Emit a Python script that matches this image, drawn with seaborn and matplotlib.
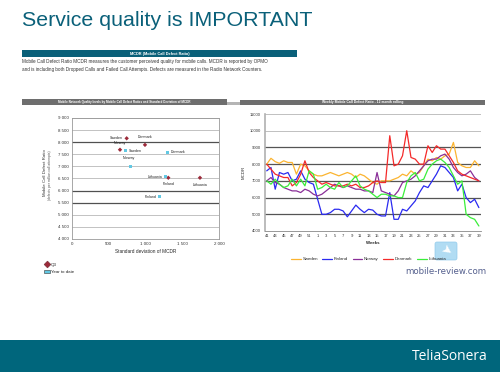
import matplotlib
matplotlib.use("Agg")
import matplotlib.pyplot as plt
import matplotlib.lines as mlines
import matplotlib.patches as mpatches
from matplotlib.ticker import FuncFormatter
import pandas as pd
import seaborn as sns

# scatter: MCDR vs standard deviation of MCDR
countries = ["Sweden", "Denmark", "Norway", "Finland", "Lithuania"]
std_q3 = [744, 993, 653, 1310, 1741]
mcdr_q3 = [8160, 7890, 7690, 6530, 6530]
std_ytd = [730, 1296, 798, 1187, 1278]
mcdr_ytd = [7650, 7580, 6990, 5750, 6580]

# weekly MCDR, 12 month rolling (week 41 .. week 39)
weeks = [41, 42, 43, 44, 45, 46, 47, 48, 49, 50, 51, 52,
         1, 2, 3, 4, 5, 6, 7, 8, 9, 10, 11, 12, 13, 14, 15, 16, 17, 18, 19, 20,
         21, 22, 23, 24, 25, 26, 27, 28, 29, 30, 31, 32, 33, 34, 35, 36, 37, 38, 39]
sweden = [8000, 8350, 8150, 8050, 8200, 8100, 8100, 7400, 8000, 7900, 7600, 7400, 7300,
          7300, 7400, 7500, 7400, 7300, 7400, 7500, 7400, 7200, 7400, 7300, 7100, 6900,
          6800, 7000, 7000, 7000, 7100, 7200, 7400, 7300, 7600, 7400, 7500, 7900, 8300,
          8200, 8400, 8300, 8500, 8600, 9300, 8100, 7900, 7800, 7800, 8200, 7900]
finland = [7600, 7800, 6500, 7500, 7400, 7500, 7000, 7100, 7600, 7100, 6900, 6800, 5900,
           5000, 5000, 5100, 5300, 5300, 5200, 4850, 5200, 5550, 5300, 5100, 5300, 5250,
           5000, 4900, 4900, 6300, 4700, 4700, 5300, 5200, 5500, 5800, 6300, 6700, 6600,
           7000, 7400, 7900, 7800, 7500, 7200, 6400, 6800, 6000, 5700, 5900, 5400]
norway = [7000, 7200, 6900, 6800, 6600, 6500, 6400, 6400, 6300, 6500, 6400, 6200, 6100,
          6200, 6400, 6600, 6800, 6700, 6600, 6700, 6600, 6500, 6500, 6400, 6400, 6300,
          7500, 6400, 6300, 6200, 6100, 6400, 6900, 7000, 7100, 7300, 7600, 7900, 8200,
          8300, 8300, 8500, 8600, 8300, 7800, 7500, 7300, 7400, 7600, 7200, 7000]
denmark = [8000, 7700, 7400, 7300, 7200, 7200, 6700, 6900, 7400, 8200, 7500, 7200, 7000,
           6800, 6900, 6800, 6700, 6700, 6700, 6800, 6700, 6800, 6600, 6600, 6700, 6900,
           7000, 6900, 6900, 9700, 7900, 8000, 8500, 10000, 8400, 8300, 8000, 8000, 9100,
           8700, 9100, 8900, 8900, 8500, 8100, 7600, 7400, 7300, 7200, 7100, 7000]
lithuania = [7000, 6800, 7100, 6800, 6600, 6700, 7100, 6700, 7100, 6700, 7600, 7400, 6500,
             6600, 6800, 6600, 6500, 6900, 6600, 6700, 7000, 7300, 6700, 6500, 6400, 6200,
             6000, 6200, 6200, 6100, 6100, 6000, 6000, 6900, 7300, 7500, 7000, 7100, 7700,
             8000, 8200, 8300, 8100, 7800, 7300, 6800, 7000, 5000, 4800, 4700, 4300]

series = {"Sweden": sweden, "Finland": finland, "Norway": norway,
          "Denmark": denmark, "Lithuania": lithuania}
line_colors = {"Sweden": "#fbb430", "Finland": "#2a2af0", "Norway": "#8a2f98",
               "Denmark": "#f42a2a", "Lithuania": "#3aee3a"}

TEAL = "#0a6079"

sns.set_theme(style="white")
plt.rcParams["font.family"] = ["Liberation Sans", "DejaVu Sans"]

fig = plt.figure(figsize=(5, 3.72), dpi=100)

# slide background in pixel coordinates
bg = fig.add_axes([0, 0, 1, 1])
bg.set_xlim(0, 500)
bg.set_ylim(372, 0)
bg.axis("off")

bg.text(22, 20, "Service quality is IMPORTANT", fontsize=15.4, color=TEAL,
        va="center", ha="left")
bg.add_patch(mpatches.Rectangle((22, 50), 275, 7, color=TEAL, lw=0))
bg.text(160, 53.5, "MCDR (Mobile Call Defect Ratio)", fontsize=2.8, color="white",
        weight="bold", ha="center", va="center")
bg.text(22, 62, "Mobile Call Defect Ratio MCDR measures the customer perceived quality "
        "for mobile calls. MCDR is reported by OPMO", fontsize=3.3, color="#333333",
        va="center")
bg.text(22, 70, "and is including both Dropped Calls and Failed Call Attempts. Defects "
        "are measured in the Radio Network Counters.", fontsize=3.3, color="#333333",
        va="center")

# chart header bars
bg.add_patch(mpatches.Rectangle((22, 99), 205, 5.5, color="#6e6e6e", lw=0))
bg.add_patch(mpatches.Rectangle((227, 102), 18, 3, color="#b5b5b5", lw=0))
bg.text(124, 101.8, "Mobile Network Quality levels by Mobile Call Defect Ratios and "
        "Standard Deviation of MCDR", fontsize=2.2, color="white", weight="bold",
        ha="center", va="center")
bg.add_patch(mpatches.Rectangle((240, 99.7), 245, 5.3, color="#6e6e6e", lw=0))
bg.text(363, 102.3, "Weekly Mobile Call Defect Ratio - 12 month rolling", fontsize=2.4,
        color="white", weight="bold", ha="center", va="center")

# bottom band
bg.add_patch(mpatches.Rectangle((0, 340), 500, 32, color="#00667c", lw=0))
bg.text(488, 357, "TeliaSonera", fontsize=10, color="white", ha="right", va="center",
        family=["Open Sans", "DejaVu Sans"])

# ---------------- left chart: scatter ----------------
ax1 = fig.add_axes([72 / 500, 1 - 239 / 372, 147 / 500, 121 / 372])
df_sc = pd.DataFrame({
    "country": countries * 2,
    "std": std_q3 + std_ytd,
    "mcdr": mcdr_q3 + mcdr_ytd,
    "period": ["Q3"] * 5 + ["Year to date"] * 5,
})
sns.scatterplot(data=df_sc, x="std", y="mcdr", hue="period", style="period",
                markers={"Q3": "D", "Year to date": "s"},
                palette={"Q3": "#9c2a3a", "Year to date": "#62c8e3"},
                s=5, linewidth=0, legend=False, ax=ax1, zorder=3)
ax1.set_xlim(0, 2000)
ax1.set_ylim(4000, 9000)
ax1.set_xticks([0, 500, 1000, 1500, 2000])
ax1.set_yticks(range(4000, 9001, 500))
sep = FuncFormatter(lambda v, p: f"{v:,.0f}".replace(",", " "))
ax1.xaxis.set_major_formatter(sep)
ax1.yaxis.set_major_formatter(sep)
for v in range(4500, 9001, 500):
    dark = v in (8000, 6000, 5500)
    ax1.axhline(v, color="#505050" if dark else "#b8b8b8", lw=0.9 if dark else 0.6,
                zorder=1)
for s in ax1.spines.values():
    s.set_color("#999999")
    s.set_linewidth(0.6)
ax1.tick_params(labelsize=3.2, length=1.5, width=0.4, pad=1, colors="#333333")
ax1.set_xlabel("Standard deviation of MCDR", fontsize=3.4, labelpad=2)
ax1.set_ylabel("")
bg.text(45, 173, "Mobile Call Defect Ratio", fontsize=3.2, rotation=90,
        ha="center", va="center", color="#333333")
bg.text(50.5, 175, "(defects per million call attempts)", fontsize=2.4, rotation=90,
        ha="center", va="center", color="#555555")

# point labels: (dx, dy) in points, alignment
q3_lab = {"Sweden": (-2.5, 0, "right", "center"), "Denmark": (0, 4.5, "center", "bottom"),
          "Norway": (0, 3.5, "center", "bottom"), "Finland": (0, -3, "center", "top"),
          "Lithuania": (0, -3.5, "center", "top")}
ytd_lab = {"Sweden": (2.5, 0, "left", "center"), "Denmark": (2.5, 0, "left", "center"),
           "Norway": (-1, 4.5, "center", "bottom"), "Finland": (-2, 0, "right", "center"),
           "Lithuania": (-2.5, 0, "right", "center")}
for c, x, y in zip(countries, std_q3, mcdr_q3):
    dx, dy, ha, va = q3_lab[c]
    ax1.annotate(c, (x, y), xytext=(dx, dy), textcoords="offset points",
                 fontsize=2.6, ha=ha, va=va, color="#222222")
for c, x, y in zip(countries, std_ytd, mcdr_ytd):
    dx, dy, ha, va = ytd_lab[c]
    ax1.annotate(c, (x, y), xytext=(dx, dy), textcoords="offset points",
                 fontsize=2.6, ha=ha, va=va, color="#222222")

h_q3 = mlines.Line2D([], [], marker="D", color="#9c2a3a", ls="", markersize=3.5,
                     markeredgecolor="#5a1a22", markeredgewidth=0.3)
h_ytd = mpatches.Patch(facecolor="#62c8e3", edgecolor="#333333", lw=0.4)
fig.legend([h_q3, h_ytd], ["Q3", "Year to date"], loc="upper left",
           bbox_to_anchor=(42 / 500, 1 - 261 / 372), frameon=False, fontsize=3.2,
           handlelength=1.3, handleheight=0.8, handletextpad=0.3, labelspacing=0.6,
           borderaxespad=0)

# ---------------- right chart: weekly lines ----------------
ax2 = fig.add_axes([264.6 / 500, 1 - 231 / 372, 216.4 / 500, 117 / 372])
rows = []
for name, vals in series.items():
    for i, v in enumerate(vals):
        rows.append({"idx": i, "MCDR": v, "country": name})
df_ln = pd.DataFrame(rows)
for v in range(5000, 11001, 1000):
    light = v >= 10000
    ax2.axhline(v, color="#c0c0c0" if light else "#555555", lw=0.7 if light else 0.9,
                zorder=1)
sns.lineplot(data=df_ln, x="idx", y="MCDR", hue="country", palette=line_colors,
             linewidth=0.9, legend=False, ax=ax2, zorder=3)
ax2.set_xlim(-0.5, len(weeks) - 0.5)
ax2.set_ylim(4000, 11000)
ax2.set_yticks(range(4000, 11001, 1000))
ax2.set_xticks(range(0, len(weeks), 2))
ax2.set_xticklabels([str(w) for w in weeks[::2]])
ax2.tick_params(labelsize=3.0, length=1.5, width=0.4, pad=1, colors="#333333")
ax2.spines["top"].set_visible(False)
ax2.spines["right"].set_visible(False)
ax2.spines["left"].set_color("#b0b0b0")
ax2.spines["left"].set_linewidth(1.2)
ax2.spines["bottom"].set_color("#888888")
ax2.spines["bottom"].set_linewidth(0.6)
ax2.set_xlabel("Weeks", fontsize=3.2, labelpad=2, weight="bold")
ax2.set_ylabel("MCDR", fontsize=3.2, labelpad=3)

handles = [mlines.Line2D([], [], color=line_colors[n], lw=0.9)
           for n in ["Sweden", "Finland", "Norway", "Denmark", "Lithuania"]]
ax2.legend(handles, ["Sweden", "Finland", "Norway", "Denmark", "Lithuania"],
           loc="center", bbox_to_anchor=(0.48, -0.24), ncol=5, frameon=False,
           fontsize=3.2, handlelength=2.2, handletextpad=0.4, columnspacing=1.0)

# mobile-review watermark
bg.add_patch(mpatches.FancyBboxPatch((437, 244), 18, 14, boxstyle="round,pad=2",
                                     facecolor="#a9d9f2", edgecolor="#8cc8ea", lw=0.5,
                                     alpha=0.9, zorder=5))
bg.text(446, 251, "\u27a4", fontsize=9, color="white", ha="center", va="center",
        rotation=-35, family=["DejaVu Sans"], zorder=6)
bg.text(446, 271, "mobile-review.com", fontsize=6.2, color="#55608e", ha="center",
        va="center", family=["Liberation Sans Narrow", "DejaVu Sans"], zorder=6)

fig.savefig("out.png", dpi=100)
